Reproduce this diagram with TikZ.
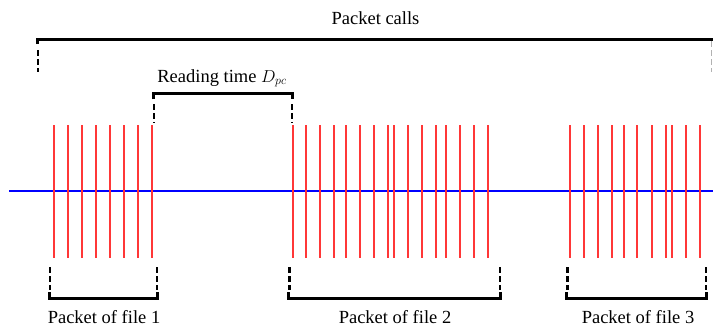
\documentclass[tikz,border=0pt]{standalone}
\usepackage{fontspec}
\setmainfont{Liberation Serif}
\definecolor{pulsered}{RGB}{255,55,55}
\begin{document}
\begin{tikzpicture}[x=1pt,y=-1pt,
  pulse/.style={draw=pulsered, line width=2pt},
  axisline/.style={draw=blue, line width=1.5pt},
  brace/.style={draw=black, line width=3pt, line join=miter},
  leg/.style={draw=black, line width=2.5pt, dash pattern=on 6pt off 3pt},
  faintleg/.style={draw=gray!60, line width=0.8pt, dash pattern=on 6pt off 3pt},
  lbl/.style={font=\fontsize{18.5}{21}\selectfont, inner sep=0pt, anchor=base}]
\useasboundingbox (0,0) rectangle (713,330);
% time axis
\coordinate (axL) at (9,191);
\coordinate (axR) at (713,191);
\draw[axisline] (axL) -- (axR);
% packets
\foreach \x in {54,68,82,96,110,124,138,152}
  \draw[pulse] (\x,125) -- (\x,258);
\foreach \x in {293,306,320,334,346,360,374,388,394,408,422,436,446,460,474,488}
  \draw[pulse] (\x,125) -- (\x,258);
\foreach \x in {570,584,598,612,624,637,652,666,672,686,700}
  \draw[pulse] (\x,125) -- (\x,258);
% packet calls bracket
\coordinate (pcL) at (37,39);
\coordinate (pcR) at (713,39);
\draw[brace] ([yshift=-5pt]pcL) -- (pcL) -- (pcR);
\draw[leg] (38,50) -- (38,72);
\draw[faintleg] (711.5,41) -- (711.5,72);
\node[lbl] (pclabel) at (375.5,24) {Packet calls};
% reading time bracket
\coordinate (rtL) at (153.5,93);
\coordinate (rtR) at (292,93);
\draw[brace] ([yshift=-6pt]rtL) -- (rtL) -- (rtR) -- ([yshift=-6pt]rtR);
\draw[leg] (154,104) -- (154,123);
\draw[leg] (292,104) -- (292,123);
\node[lbl] (rtlabel) at (222,82) {Reading time $D_{pc}$};
% file brackets
\foreach \a/\b/\c/\n in {49/157/104/1, 288.5/500/395/2, 566.5/706/638/3}{
  \draw[leg] (\a+1,267) -- (\a+1,290);
  \draw[leg] (\b,267) -- (\b,290);
  \draw[brace] (\a,292) -- (\a,298) -- (\b,298) -- (\b,292);
  \node[lbl] (file\n) at (\c,323) {Packet of file \n};
}
\end{tikzpicture}
\end{document}
